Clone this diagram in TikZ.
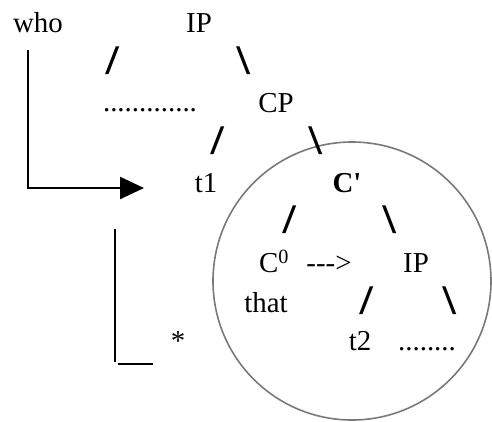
\documentclass[tikz,border=0pt]{standalone}
\usepackage{fontspec}
\setmainfont{Liberation Serif}
\newfontfamily\slfont{DejaVu Sans}
\usetikzlibrary{arrows.meta}
\begin{document}
\begin{tikzpicture}[x=1bp,y=-1bp,
  lab/.style={inner sep=0pt,outer sep=0pt,anchor=base,font=\fontsize{29}{32}\selectfont},
  sl/.style={inner sep=0pt,outer sep=0pt,font=\slfont\fontsize{34}{38}\selectfont,xscale=1.25,transform shape},
  ln/.style={line width=2.4bp,black}]
\useasboundingbox (0,0) rectangle (492,421);
\fill[white] (0,0) rectangle (492,421);
% circle
\draw[gray!95!black, line width=1.6bp] (352,281) circle[radius=139];
% top
\node[lab] (who) at (38,32) {who};
\node[lab] (ip1) at (199,32) {IP};
\node[sl] (s1) at (113,60.5) {/};
\node[sl] (s2) at (244,60.5) {\textbackslash};
\node[lab] (dots1) at (150,111) {.............};
\node[lab] (cp) at (276,112) {CP};
\node[sl] (s3) at (218,141) {/};
\node[sl] (s4) at (316,141) {\textbackslash};
\node[lab] (t1) at (206,192) {t1};
\node[lab] (cbar) at (347,192) {\textbf{C\textquotesingle}};
\node[sl] (s5) at (290,220) {/};
\node[sl] (s6) at (390,220) {\textbackslash};
\node[lab] (c0) at (274,272) {C\textsuperscript{0}};
\node[lab] (arr) at (329,272) {-\kern0pt-\kern0pt-\kern0pt>};
\node[lab] (ip2) at (416,272) {IP};
\node[lab] (that) at (266,312) {that};
\node[sl] (s7) at (367,301) {/};
\node[sl] (s8) at (450,301) {\textbackslash};
\node[lab] (t2) at (360,350) {t2};
\node[lab] (dots2) at (427,350) {........};
\node[lab] (star) at (178,350) {*};
% movement arrow
\coordinate (a1) at (28,50);
\coordinate (a2) at (144,188);
\draw[ln,-{Triangle[length=24bp,width=22bp]}] (a1) |- (a2);
% blocked path
\coordinate (b1) at (115,229);
\coordinate (b2) at (115,362);
\coordinate (b3) at (118,364);
\coordinate (b4) at (153,364);
\draw[ln] (b1) -- (b2);
\draw[ln] (b3) -- (b4);
\end{tikzpicture}
\end{document}
